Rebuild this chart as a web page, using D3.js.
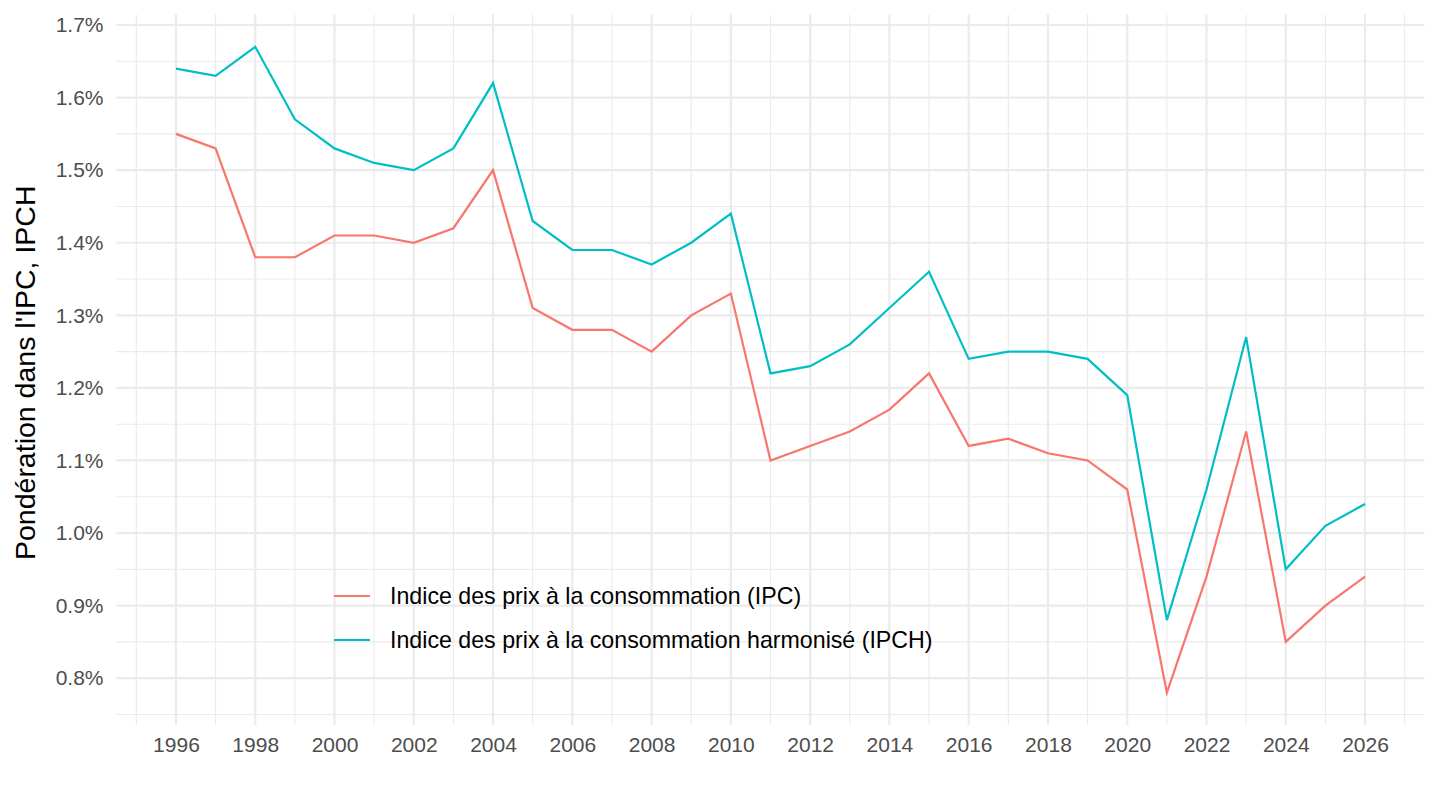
<!DOCTYPE html>
<html>
<head>
<meta charset="utf-8">
<script src="https://cdn.jsdelivr.net/npm/d3@7"></script>
<style>
  body { margin: 0; background: #fff; }
  text { font-family: "Liberation Sans", Arial, sans-serif; }
</style>
</head>
<body>
<script>
const years = d3.range(1996, 2027);
const ipc = [1.55, 1.53, 1.38, 1.38, 1.41, 1.41, 1.40, 1.42, 1.50, 1.31,
             1.28, 1.28, 1.25, 1.30, 1.33, 1.10, 1.12, 1.14, 1.17, 1.22,
             1.12, 1.13, 1.11, 1.10, 1.06, 0.78, 0.94, 1.14, 0.85, 0.90, 0.94];
const ipch = [1.64, 1.63, 1.67, 1.57, 1.53, 1.51, 1.50, 1.53, 1.62, 1.43,
              1.39, 1.39, 1.37, 1.40, 1.44, 1.22, 1.23, 1.26, 1.31, 1.36,
              1.24, 1.25, 1.25, 1.24, 1.19, 0.88, 1.06, 1.27, 0.95, 1.01, 1.04];
const seriesNames = ["Indice des prix à la consommation (IPC)",
                     "Indice des prix à la consommation harmonisé (IPCH)"];
const seriesColors = ["#F8766D", "#00BFC4"];
const yTicks = [0.8, 0.9, 1.0, 1.1, 1.2, 1.3, 1.4, 1.5, 1.6, 1.7];
const xTicks = d3.range(1996, 2027, 2);

const width = 1440, height = 810;
const margin = {top: 14.5, right: 15.5, bottom: 85, left: 116.5};

const svg = d3.select("body").append("svg")
  .attr("width", width)
  .attr("height", height);

// ggplot style 5% expansion
const xMin = 1996, xMax = 2026;
const xPad = (xMax - xMin) * 0.05;
const allVals = ipc.concat(ipch);
const yMin = d3.min(allVals), yMax = d3.max(allVals);
const yPad = (yMax - yMin) * 0.05;

const x = d3.scaleLinear()
  .domain([xMin - xPad, xMax + xPad])
  .range([margin.left, width - margin.right]);
const y = d3.scaleLinear()
  .domain([yMin - yPad, yMax + yPad])
  .range([height - margin.bottom, margin.top]);

const grid = svg.append("g");
// minor grid
const yMinor = d3.range(0.75, 1.75, 0.1);
grid.selectAll(".ymin").data(yMinor).enter().append("line")
  .attr("x1", x.range()[0]).attr("x2", x.range()[1])
  .attr("y1", d => y(d)).attr("y2", d => y(d))
  .attr("stroke", "#ebebeb").attr("stroke-width", 1.1);
const xMinor = d3.range(1995, 2028, 2);
grid.selectAll(".xmin").data(xMinor).enter().append("line")
  .attr("y1", y.range()[0]).attr("y2", y.range()[1])
  .attr("x1", d => x(d)).attr("x2", d => x(d))
  .attr("stroke", "#ebebeb").attr("stroke-width", 1.1);
// major grid
grid.selectAll(".ymaj").data(yTicks).enter().append("line")
  .attr("x1", x.range()[0]).attr("x2", x.range()[1])
  .attr("y1", d => y(d)).attr("y2", d => y(d))
  .attr("stroke", "#ebebeb").attr("stroke-width", 2.2);
grid.selectAll(".xmaj").data(xTicks).enter().append("line")
  .attr("y1", y.range()[0]).attr("y2", y.range()[1])
  .attr("x1", d => x(d)).attr("x2", d => x(d))
  .attr("stroke", "#ebebeb").attr("stroke-width", 2.2);

// axes (text only)
const yAxis = d3.axisLeft(y).tickValues(yTicks)
  .tickFormat(d => d.toFixed(1) + "%").tickSize(0).tickPadding(13);
svg.append("g").attr("transform", `translate(${margin.left},0)`)
  .call(yAxis)
  .call(g => g.select(".domain").remove())
  .selectAll("text").attr("font-size", 21).attr("fill", "#4d4d4d")
  .style("font-family", "Liberation Sans, Arial, sans-serif");

const xAxis = d3.axisBottom(x).tickValues(xTicks)
  .tickFormat(d3.format("d")).tickSize(0).tickPadding(12);
svg.append("g").attr("transform", `translate(0,${height - margin.bottom})`)
  .call(xAxis)
  .call(g => g.select(".domain").remove())
  .selectAll("text").attr("font-size", 21).attr("fill", "#4d4d4d")
  .style("font-family", "Liberation Sans, Arial, sans-serif");

// y title
svg.append("text")
  .attr("transform", `translate(35,${(y.range()[0] + y.range()[1]) / 2 + 3}) rotate(-90)`)
  .attr("text-anchor", "middle")
  .attr("font-size", 28.5)
  .attr("fill", "#000")
  .text("Pondération dans l'IPC, IPCH");

// lines
const line = d3.line()
  .x((d, i) => x(years[i]))
  .y(d => y(d));
[ipc, ipch].forEach((s, i) => {
  svg.append("path")
    .attr("d", line(s))
    .attr("fill", "none")
    .attr("stroke", seriesColors[i])
    .attr("stroke-width", 2.2);
});

// legend
const legend = svg.append("g").attr("transform", "translate(334,596)");
seriesNames.forEach((name, i) => {
  const g = legend.append("g").attr("transform", `translate(0,${i * 44})`);
  g.append("line").attr("x1", 0).attr("x2", 36).attr("y1", 0).attr("y2", 0)
    .attr("stroke", seriesColors[i]).attr("stroke-width", 2.2);
  g.append("text").attr("x", 56).attr("y", 0).attr("dy", "0.35em")
    .attr("font-size", 23.2).attr("fill", "#000").text(name);
});
</script>
</body>
</html>
